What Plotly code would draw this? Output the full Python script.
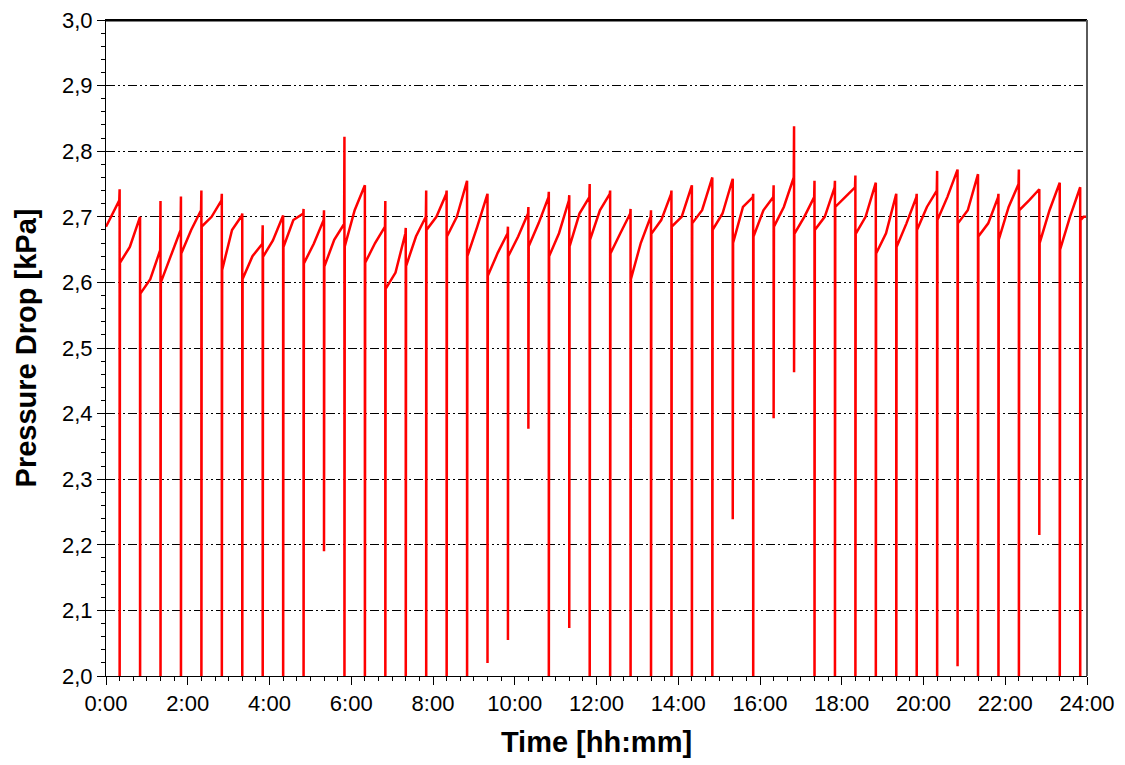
import plotly.graph_objects as go

# Cleaning-pulse (drop) times, hh:mm
drop_times = ["0:20", "0:50", "1:20", "1:50", "2:20", "2:50", "3:20", "3:50",
              "4:20", "4:50", "5:20", "5:50", "6:20", "6:50", "7:20", "7:50",
              "8:20", "8:50", "9:20", "9:50", "10:20", "10:50", "11:20", "11:50",
              "12:20", "12:50", "13:20", "13:50", "14:20", "14:50", "15:20", "15:50",
              "16:20", "16:50", "17:20", "17:50", "18:20", "18:50", "19:20", "19:50",
              "20:20", "20:50", "21:20", "21:50", "22:20", "22:50", "23:20", "23:50"]

# Pressure drop at the peak of each pulse and at its lowest point [kPa]
drop_spike = [2.742, 2.700, 2.724, 2.731, 2.740, 2.735, 2.705, 2.687, 2.702, 2.712,
              2.710, 2.822, 2.748, 2.724, 2.683, 2.740, 2.740, 2.755, 2.735, 2.685,
              2.715, 2.738, 2.733, 2.750, 2.740, 2.712, 2.710, 2.740, 2.748, 2.760,
              2.758, 2.735, 2.748, 2.838, 2.755, 2.755, 2.763, 2.752, 2.735, 2.735,
              2.770, 2.772, 2.765, 2.735, 2.772, 2.742, 2.752, 2.745]
drop_min = [1.90, 1.90, 1.90, 1.90, 1.90, 1.90, 1.90, 1.90, 1.90, 1.90,
            2.190, 1.90, 1.90, 1.90, 1.90, 1.90, 1.90, 1.90, 2.020, 2.055,
            2.377, 1.90, 2.073, 1.90, 1.90, 1.90, 1.90, 1.90, 1.90, 1.90,
            2.239, 1.90, 2.393, 2.463, 1.90, 1.90, 1.90, 1.90, 1.90, 1.90,
            1.90, 2.015, 1.90, 1.90, 1.90, 2.215, 1.90, 1.90]

# Filtration segments between pulses: level at start, middle and end [kPa]
seg_start = [2.685, 2.630, 2.583, 2.600, 2.644, 2.685, 2.619, 2.605, 2.639, 2.654,
             2.629, 2.624, 2.655, 2.630, 2.590, 2.625, 2.680, 2.670, 2.640, 2.610,
             2.640, 2.655, 2.640, 2.655, 2.665, 2.644, 2.605, 2.674, 2.685, 2.690,
             2.680, 2.660, 2.670, 2.685, 2.674, 2.680, 2.715, 2.674, 2.644, 2.654,
             2.680, 2.695, 2.690, 2.670, 2.665, 2.710, 2.660, 2.650, 2.695]
seg_mid = [2.705, 2.654, 2.605, 2.640, 2.680, 2.700, 2.680, 2.640, 2.664, 2.695,
           2.659, 2.665, 2.710, 2.660, 2.615, 2.670, 2.700, 2.700, 2.685, 2.645,
           2.670, 2.690, 2.675, 2.705, 2.710, 2.675, 2.660, 2.695, 2.700, 2.710,
           2.705, 2.715, 2.710, 2.715, 2.700, 2.700, 2.730, 2.700, 2.675, 2.690,
           2.715, 2.730, 2.710, 2.690, 2.715, 2.725, 2.710, 2.700, 2.700]
seg_end = [2.725, 2.700, 2.649, 2.680, 2.710, 2.725, 2.702, 2.659, 2.700, 2.705,
           2.695, 2.689, 2.745, 2.685, 2.675, 2.700, 2.735, 2.750, 2.730, 2.675,
           2.705, 2.730, 2.725, 2.730, 2.735, 2.705, 2.700, 2.735, 2.745, 2.758,
           2.755, 2.730, 2.730, 2.760, 2.730, 2.745, 2.745, 2.750, 2.733, 2.730,
           2.740, 2.770, 2.763, 2.730, 2.750, 2.740, 2.750, 2.743, 2.700]

x_tick_labels = ["0:00", "2:00", "4:00", "6:00", "8:00", "10:00", "12:00",
                 "14:00", "16:00", "18:00", "20:00", "22:00", "24:00"]
y_tick_values = [2.0, 2.1, 2.2, 2.3, 2.4, 2.5, 2.6, 2.7, 2.8, 2.9, 3.0]


def to_hours(s):
    h, m = s.split(":")
    return int(h) + int(m) / 60.0


drops_h = [to_hours(s) for s in drop_times]
bounds = [0.0] + drops_h + [24.0]
eps = 0.008

xs, ys = [], []
for i in range(len(seg_start)):
    t0, t1 = bounds[i], bounds[i + 1]
    t0s = t0 + (eps if i > 0 else 0.0)
    xs += [t0s, (t0 + t1) / 2.0, t1 - (eps if i < len(drops_h) else 0.0)]
    ys += [seg_start[i], seg_mid[i], seg_end[i]]
    if i < len(drops_h):
        xs += [t1, t1]
        ys += [drop_spike[i], drop_min[i]]

fig = go.Figure()
fig.add_trace(go.Scatter(x=xs, y=ys, mode="lines",
                         line=dict(color="#ff0000", width=2.5),
                         showlegend=False, hoverinfo="skip"))

font_family = "Liberation Sans, Arial, sans-serif"
dash_pattern = "9px,3px,2px,3px,2px,3px"

fig.update_layout(
    width=1125, height=765,
    margin=dict(l=98, r=46, t=12, b=97, autoexpand=False),
    paper_bgcolor="white", plot_bgcolor="white",
    separators=",.",
    font=dict(family=font_family, color="black", size=22),
    xaxis=dict(
        range=[0, 24], automargin=False,
        tickmode="array",
        tickvals=[to_hours(s) for s in x_tick_labels],
        ticktext=x_tick_labels,
        ticks="outside", ticklen=8, tickwidth=1, tickcolor="black",
        minor=dict(tickmode="linear", tick0=0, dtick=1 / 3, ticks="outside",
                   ticklen=4, tickwidth=1, tickcolor="black", showgrid=False),
        showline=True, linecolor="black", linewidth=1, mirror=True,
        showgrid=False, zeroline=False, ticklabeloverflow="allow",
        tickfont=dict(size=22, family=font_family, color="black"),
        title=dict(text="<b>Time [hh:mm]</b>", standoff=16,
                   font=dict(size=29, family=font_family, color="black")),
    ),
    yaxis=dict(
        range=[2.0, 3.0], automargin=False,
        tickmode="array", tickvals=y_tick_values,
        ticktext=[f"{v:.1f}".replace(".", ",") for v in y_tick_values],
        ticks="outside", ticklen=8, tickwidth=1, tickcolor="black",
        minor=dict(tickmode="linear", tick0=2.0, dtick=0.02, ticks="outside",
                   ticklen=4, tickwidth=1, tickcolor="black", showgrid=False),
        showline=True, linecolor="black", linewidth=1, mirror=False,
        showgrid=True, gridcolor="black", gridwidth=1, griddash=dash_pattern,
        zeroline=False, ticklabeloverflow="allow",
        tickfont=dict(size=22, family=font_family, color="black"),
        title=dict(text="<b>Pressure Drop [kPa]</b>", standoff=16,
                   font=dict(size=29, family=font_family, color="black")),
    ),
    shapes=[
        dict(type="line", xref="paper", yref="paper", x0=0, x1=1, y0=0.999, y1=0.999,
             line=dict(color="black", width=1.5)),
        dict(type="line", xref="paper", yref="paper", x0=1, x1=1, y0=0, y1=1,
             line=dict(color="#5a5a5a", width=2)),
    ],
)

fig.write_html("out.html")
